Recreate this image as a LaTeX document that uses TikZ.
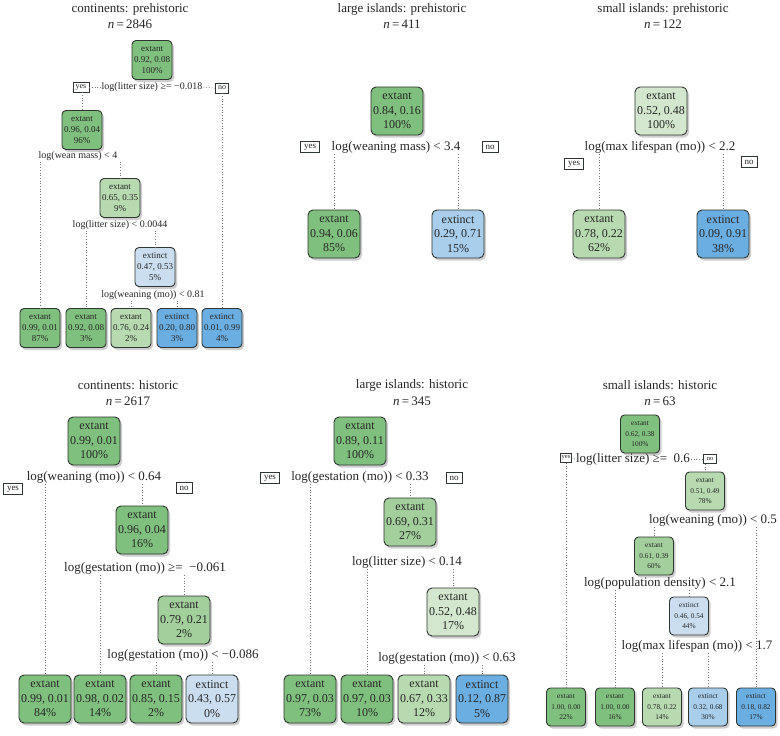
\documentclass[tikz,border=0pt]{standalone}
\usepackage{fontspec}
\setmainfont{Liberation Serif}
\usetikzlibrary{shadows}
\definecolor{gdark}{HTML}{80C07E}
\definecolor{gmid}{HTML}{A2CF9B}
\definecolor{glight}{HTML}{B8DAB0}
\definecolor{gpale}{HTML}{D3E7CE}
\definecolor{bdark}{HTML}{6BAEE1}
\definecolor{bmid}{HTML}{A8CEEC}
\definecolor{bpale}{HTML}{CBDEF0}
\definecolor{edge}{HTML}{2F3530}
\definecolor{txt}{HTML}{262626}
\tikzset{
  box/.style={draw=edge, line width=0.9pt, rounded corners=5pt, align=center, inner sep=0pt, text=txt,
    drop shadow={shadow xshift=2pt, shadow yshift=-2.5pt, fill=black!55, opacity=0.35}},
  bigbox/.style={box, minimum width=52, minimum height=48, font=\fontsize{12}{14.5}\selectfont},
  smallbox/.style={box, minimum width=40, minimum height=39, rounded corners=4pt, font=\fontsize{9}{11}\selectfont},
  tinybox/.style={box, minimum width=39, minimum height=38, rounded corners=4pt, font=\fontsize{7.3}{10.5}\selectfont},
  split/.style={font=\fontsize{13}{15}\selectfont, inner sep=1pt, text=txt},
  splitsm/.style={font=\fontsize{10}{12}\selectfont, inner sep=1pt, text=txt},
  yn/.style={draw=edge, line width=0.6pt, inner xsep=3.5pt, inner ysep=0.5pt, minimum height=11, font=\fontsize{9}{10}\selectfont, text=txt},
  ynsm/.style={draw=edge, line width=0.6pt, inner xsep=2.5pt, inner ysep=0.5pt, minimum height=10, font=\fontsize{8}{9}\selectfont, text=txt},
  yntiny/.style={draw=edge, line width=0.6pt, inner xsep=1pt, inner ysep=0.5pt, minimum height=9, font=\fontsize{6.5}{7}\selectfont, text=txt},
  br/.style={draw=black!55, line width=0.8pt, dash pattern=on 0.8pt off 1.9pt},
  ttl/.style={font=\fontsize{13}{15}\selectfont, text=txt, inner sep=0pt}
}
\begin{document}
\begin{tikzpicture}[x=1pt,y=-1pt]
\path[use as bounding box, fill=white] (0,0) rectangle (780,736);

% ---------------- Panel 1: continents prehistoric
\node[ttl] (t1) at (130,9) {continents: prehistoric};
\node[ttl] (n1) at (130,24) {\textit{n}\,=\,2846};
\node[smallbox, fill=gdark] (a1) at (152,60) {extant\\0.92, 0.08\\100\%};
\node[splitsm] (s1a) at (152,87) {log(litter size) ≥= −0.018};
\node[ynsm] (y1) at (81,87) {yes};
\node[ynsm] (no1) at (222,88) {no};
\node[smallbox, fill=gdark] (a2) at (82,130) {extant\\0.96, 0.04\\96\%};
\node[splitsm] (s1b) at (78,156) {log(wean mass) < 4};
\node[smallbox, fill=glight] (a3) at (120,198) {extant\\0.65, 0.35\\9\%};
\node[splitsm] (s1c) at (120,225) {log(litter size) < 0.0044};
\node[smallbox, fill=bpale] (a4) at (155,267) {extinct\\0.47, 0.53\\5\%};
\node[splitsm] (s1d) at (153,295) {log(weaning (mo)) < 0.81};
\node[smallbox, fill=gdark] (L11) at (40,328) {extant\\0.99, 0.01\\87\%};
\node[smallbox, fill=gdark] (L12) at (86,328) {extant\\0.92, 0.08\\3\%};
\node[smallbox, fill=glight] (L13) at (131,328) {extant\\0.76, 0.24\\2\%};
\node[smallbox, fill=bdark] (L14) at (177,328) {extinct\\0.20, 0.80\\3\%};
\node[smallbox, fill=bdark] (L15) at (222,328) {extinct\\0.01, 0.99\\4\%};
\draw[br] (y1.east) -- (s1a.west);
\draw[br] (s1a.east) -- (no1.west);
\draw[br] (a2.north |- y1.south) -- (a2.north);
\draw[br] (no1.south) -- (L15.north);
\draw[br] (L11.north |- s1b.south) -- (L11.north);
\draw[br] (a3.north |- s1b.south) -- (a3.north);
\draw[br] (L12.north |- s1c.south) -- (L12.north);
\draw[br] (a4.north |- s1c.south) -- (a4.north);
\draw[br] (L13.north |- s1d.south) -- (L13.north);
\draw[br] (L14.north |- s1d.south) -- (L14.north);

% ---------------- Panel 2: large islands prehistoric
\node[ttl] (t2) at (402,9) {large islands: prehistoric};
\node[ttl] (n2) at (402,24) {\textit{n}\,=\,411};
\node[bigbox, fill=gdark] (b1) at (397,111) {extant\\0.84, 0.16\\100\%};
\node[split] (s2a) at (396,147) {log(weaning mass) < 3.4};
\node[yn] (y2) at (310,147) {yes};
\node[yn] (no2) at (490,147) {no};
\node[bigbox, fill=gdark] (b2) at (334,234) {extant\\0.94, 0.06\\85\%};
\node[bigbox, fill=bmid] (b3) at (458,234) {extinct\\0.29, 0.71\\15\%};
\draw[br] (b2.north |- s2a.south) -- (b2.north);
\draw[br] (b3.north |- s2a.south) -- (b3.north);

% ---------------- Panel 3: small islands prehistoric
\node[ttl] (t3) at (663,9) {small islands: prehistoric};
\node[ttl] (n3) at (663,24) {\textit{n}\,=\,122};
\node[bigbox, fill=gpale] (c1) at (661,111) {extant\\0.52, 0.48\\100\%};
\node[split] (s3a) at (660,147) {log(max lifespan (mo)) < 2.2};
\node[yn] (y3) at (574,164) {yes};
\node[yn] (no3) at (749,162) {no};
\node[bigbox, fill=glight] (c2) at (599,234) {extant\\0.78, 0.22\\62\%};
\node[bigbox, fill=bdark] (c3) at (723,234) {extinct\\0.09, 0.91\\38\%};
\draw[br] (c2.north |- s3a.south) -- (c2.north);
\draw[br] (c3.north |- s3a.south) -- (c3.north);

% ---------------- Panel 4: continents historic
\node[ttl] (t4) at (128,385) {continents: historic};
\node[ttl] (n4) at (128,401) {\textit{n}\,=\,2617};
\node[bigbox, fill=gdark] (d1) at (94,441) {extant\\0.99, 0.01\\100\%};
\node[split] (s4a) at (94,477) {log(weaning (mo)) < 0.64};
\node[yn] (y4) at (13,489) {yes};
\node[yn] (no4) at (184,488) {no};
\node[bigbox, fill=gdark] (d2) at (142,530) {extant\\0.96, 0.04\\16\%};
\node[split] (s4b) at (145,568) {log(gestation (mo)) ≥= \ −0.061};
\node[bigbox, fill=gmid] (d3) at (184,620) {extant\\0.79, 0.21\\2\%};
\node[split] (s4c) at (183,655) {log(gestation (mo)) < −0.086};
\node[bigbox, fill=gdark] (D1) at (45,699) {extant\\0.99, 0.01\\84\%};
\node[bigbox, fill=gdark] (D2) at (100,699) {extant\\0.98, 0.02\\14\%};
\node[bigbox, fill=gdark] (D3) at (156,699) {extant\\0.85, 0.15\\2\%};
\node[bigbox, fill=bpale] (D4) at (212,699) {extinct\\0.43, 0.57\\0\%};
\draw[br] (D1.north |- s4a.south) -- (D1.north);
\draw[br] (d2.north |- s4a.south) -- (d2.north);
\draw[br] (D2.north |- s4b.south) -- (D2.north);
\draw[br] (d3.north |- s4b.south) -- (d3.north);
\draw[br] (D3.north |- s4c.south) -- (D3.north);
\draw[br] (D4.north |- s4c.south) -- (D4.north);

% ---------------- Panel 5: large islands historic
\node[ttl] (t5) at (412,385) {large islands: historic};
\node[ttl] (n5) at (412,401) {\textit{n}\,=\,345};
\node[bigbox, fill=gdark] (e1) at (360,441) {extant\\0.89, 0.11\\100\%};
\node[split] (s5a) at (360,477) {log(gestation (mo)) < 0.33};
\node[yn] (y5) at (270,478) {yes};
\node[yn] (no5) at (454,478) {no};
\node[bigbox, fill=gmid] (e2) at (410,522) {extant\\0.69, 0.31\\27\%};
\node[split] (s5b) at (407,562) {log(litter size) < 0.14};
\node[bigbox, fill=gpale] (e3) at (453,612) {extant\\0.52, 0.48\\17\%};
\node[split] (s5c) at (447,658) {log(gestation (mo)) < 0.63};
\node[bigbox, fill=gdark] (E1) at (310,699) {extant\\0.97, 0.03\\73\%};
\node[bigbox, fill=gdark] (E2) at (367,699) {extant\\0.97, 0.03\\10\%};
\node[bigbox, fill=glight] (E3) at (424,699) {extant\\0.67, 0.33\\12\%};
\node[bigbox, fill=bdark] (E4) at (482,699) {extinct\\0.12, 0.87\\5\%};
\draw[br] (E1.north |- s5a.south) -- (E1.north);
\draw[br] (e2.north |- s5a.south) -- (e2.north);
\draw[br] (E2.north |- s5b.south) -- (E2.north);
\draw[br] (e3.north |- s5b.south) -- (e3.north);
\draw[br] (E3.north |- s5c.south) -- (E3.north);
\draw[br] (E4.north |- s5c.south) -- (E4.north);

% ---------------- Panel 6: small islands historic
\node[ttl] (t6) at (660,385) {small islands: historic};
\node[ttl] (n6) at (660,401) {\textit{n}\,=\,63};
\node[tinybox, fill=gdark] (f1) at (640,434) {extant\\0.62, 0.38\\100\%};
\node[split] (s6a) at (633,459) {log(litter size) ≥= \ 0.6};
\node[yntiny] (y6) at (566,458) {yes};
\node[yntiny, inner xsep=3.5pt] (no6) at (710,459) {no};
\node[tinybox, fill=glight] (f2) at (705,491) {extant\\0.51, 0.49\\78\%};
\node[split] (s6b) at (713,520) {log(weaning (mo)) < 0.5};
\node[tinybox, fill=gmid] (f3) at (654,556) {extant\\0.61, 0.39\\60\%};
\node[split] (s6c) at (660,583) {log(population density) < 2.1};
\node[tinybox, fill=bpale] (f4) at (689,616) {extinct\\0.46, 0.54\\44\%};
\node[split] (s6d) at (697,646) {log(max lifespan (mo)) < 1.7};
\node[tinybox, fill=gdark] (F1) at (566,707) {extant\\1.00, 0.00\\22\%};
\node[tinybox, fill=gdark] (F2) at (615,707) {extant\\1.00, 0.00\\16\%};
\node[tinybox, fill=glight] (F3) at (662,707) {extant\\0.78, 0.22\\14\%};
\node[tinybox, fill=bmid] (F4) at (708,707) {extinct\\0.32, 0.68\\30\%};
\node[tinybox, fill=bdark] (F5) at (756,707) {extinct\\0.18, 0.82\\17\%};
\draw[br] (y6.east) -- (s6a.west);
\draw[br] (s6a.east) -- (no6.west);
\draw[br] (y6.south) -- (y6.south |- F1.north);
\draw[br] (f2.north |- no6.south) -- (f2.north);
\draw[br] (f3.north |- s6b.south) -- (f3.north);
\draw[br] (F5.north |- s6b.south) -- (F5.north);
\draw[br] (F2.north |- s6c.south) -- (F2.north);
\draw[br] (f4.north |- s6c.south) -- (f4.north);
\draw[br] (F3.north |- s6d.south) -- (F3.north);
\draw[br] (F4.north |- s6d.south) -- (F4.north);
\end{tikzpicture}
\end{document}
